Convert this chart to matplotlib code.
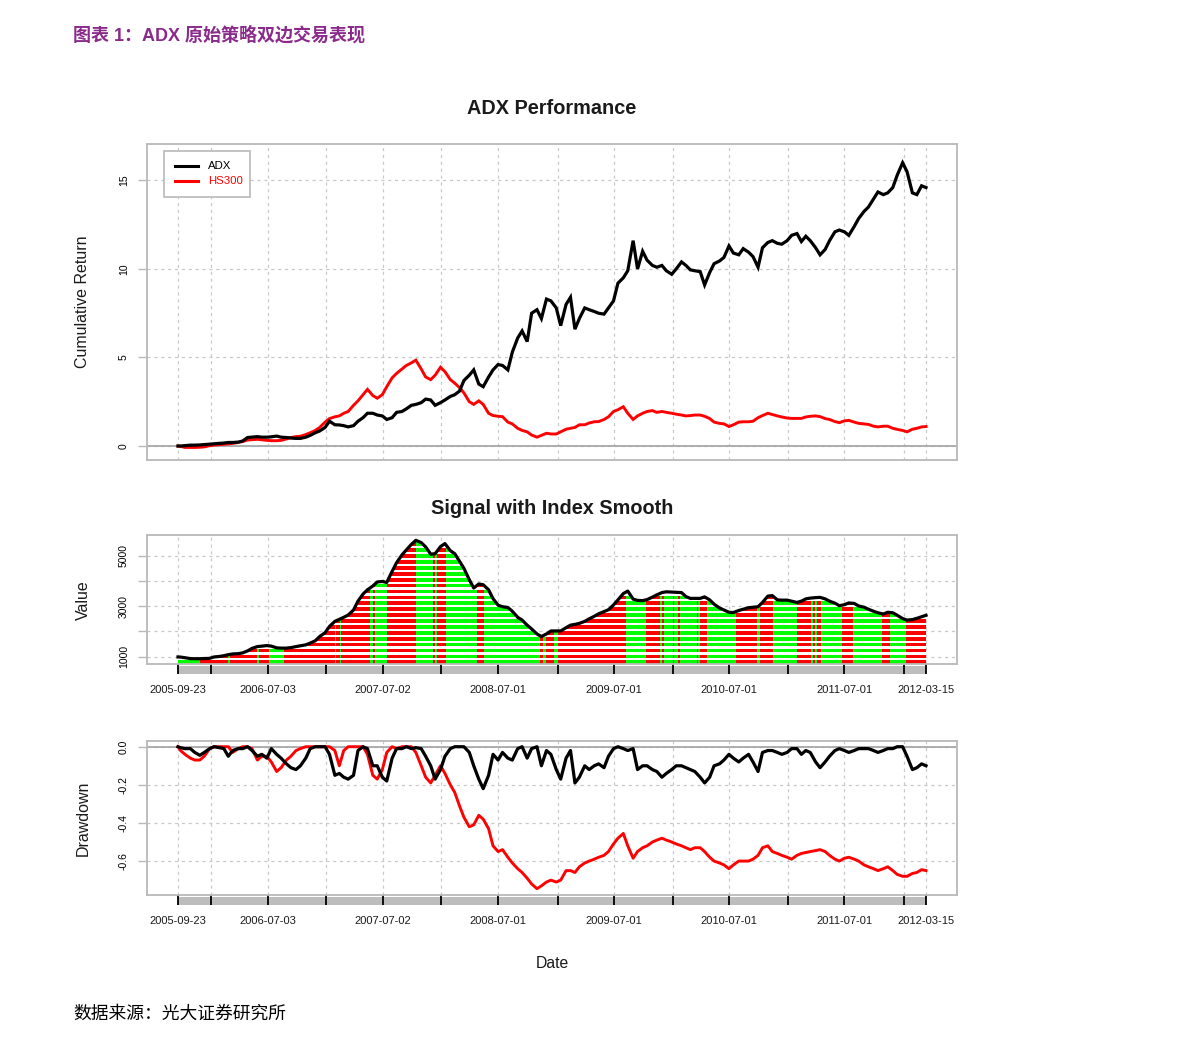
import matplotlib
matplotlib.use('Agg')
import matplotlib.pyplot as plt
import matplotlib.dates as mdates
import matplotlib.transforms as mtransforms
from matplotlib.path import Path
from matplotlib.patches import PathPatch, Rectangle
from matplotlib.lines import Line2D
import pandas as pd

plt.rcParams['font.family'] = ['Liberation Sans', 'DejaVu Sans']

# ---------------- data ----------------
start_date = '2005-09-23'
end_date = '2012-03-15'
# first trading day, then the 1st and 15th of every month up to the last day
sample_dates = [pd.Timestamp(start_date)] + list(pd.date_range('2005-10-01', end_date, freq='SMS'))

adx_cum = [
    0.00, 0.00, 0.02, 0.05, 0.05, 0.06, 0.08,
    0.10, 0.13, 0.15, 0.17, 0.20, 0.20, 0.22, 0.28, 0.48, 0.50, 0.53, 0.50,
    0.50, 0.52, 0.56, 0.50, 0.48, 0.45, 0.43, 0.43, 0.50, 0.60, 0.75, 0.85,
    1.05, 1.40, 1.20, 1.19, 1.15, 1.08, 1.15, 1.40, 1.60, 1.85, 1.85, 1.75,
    1.70, 1.50, 1.60, 1.90, 1.95, 2.10, 2.30, 2.35, 2.45, 2.65, 2.60, 2.30,
    2.45, 2.60, 2.80, 2.90, 3.10, 3.70, 4.00, 4.30, 3.50, 3.35, 3.90, 4.30,
    4.60, 4.55, 4.30, 5.30, 6.10, 6.50, 5.90, 7.50, 7.70, 7.20, 8.30, 8.20,
    7.80, 6.80, 8.00, 8.40, 6.60, 7.20, 7.80, 7.70, 7.60, 7.50, 7.45, 7.80,
    8.20, 9.20, 9.50, 9.90, 11.60, 10.00, 11.00, 10.50, 10.20, 10.10, 10.20, 9.90,
    9.70, 10.00, 10.40, 10.20, 9.95, 9.90, 9.85, 9.10, 9.80, 10.30, 10.45, 10.65,
    11.30, 10.90, 10.80, 11.15, 10.95, 10.70, 10.10, 11.20, 11.50, 11.60, 11.45, 11.40,
    11.60, 11.90, 12.00, 11.55, 11.85, 11.60, 11.20, 10.80, 11.10, 11.60, 12.10, 12.20,
    12.10, 11.90, 12.40, 12.85, 13.25, 13.50, 13.95, 14.35, 14.20, 14.30, 14.60, 15.30,
    16.00, 15.50, 14.30, 14.20, 14.70, 14.60,
]

hs300_cum = [
    0.00, -0.02, -0.08, -0.08, -0.08, -0.07, -0.05,
    0.02, 0.05, 0.08, 0.10, 0.12, 0.15, 0.20, 0.25, 0.34, 0.36, 0.38, 0.35,
    0.32, 0.30, 0.30, 0.32, 0.40, 0.48, 0.53, 0.55, 0.65, 0.75, 0.88, 1.05,
    1.35, 1.55, 1.65, 1.70, 1.85, 1.95, 2.30, 2.55, 2.90, 3.20, 2.85, 2.70,
    2.90, 3.35, 3.85, 4.10, 4.35, 4.55, 4.70, 4.85, 4.35, 3.90, 3.75, 4.00,
    4.45, 4.20, 3.75, 3.55, 3.30, 3.00, 2.50, 2.35, 2.55, 2.35, 1.85, 1.72,
    1.68, 1.66, 1.35, 1.25, 1.00, 0.88, 0.80, 0.62, 0.50, 0.60, 0.72, 0.68,
    0.68, 0.80, 0.95, 1.00, 1.05, 1.20, 1.20, 1.30, 1.37, 1.38, 1.50, 1.65,
    1.95, 2.05, 2.22, 1.85, 1.50, 1.70, 1.85, 1.95, 2.00, 1.90, 1.95, 1.90,
    1.85, 1.80, 1.75, 1.70, 1.72, 1.75, 1.75, 1.68, 1.55, 1.35, 1.28, 1.25,
    1.10, 1.20, 1.35, 1.37, 1.37, 1.40, 1.60, 1.72, 1.85, 1.78, 1.70, 1.64,
    1.58, 1.56, 1.56, 1.56, 1.64, 1.68, 1.70, 1.66, 1.55, 1.50, 1.38, 1.32,
    1.42, 1.45, 1.35, 1.28, 1.25, 1.22, 1.12, 1.08, 1.12, 1.12, 1.00, 0.94,
    0.88, 0.80, 0.95, 1.00, 1.08, 1.10,
]

index_smooth = [
    990, 985, 960, 925, 920, 920, 925,
    935, 990, 1010, 1040, 1080, 1110, 1120, 1150, 1230, 1330, 1400, 1420,
    1440, 1420, 1350, 1340, 1340, 1360, 1400, 1430, 1470, 1540, 1630, 1800,
    1950, 2200, 2400, 2480, 2560, 2650, 2850, 3200, 3480, 3650, 3800, 3960,
    3980, 3940, 4380, 4720, 5030, 5230, 5450, 5610, 5520, 5350, 5060, 5080,
    5360, 5480, 5200, 5080, 4780, 4500, 4050, 3720, 3880, 3850, 3650, 3300,
    3040, 2980, 2950, 2800, 2560, 2450, 2250, 2100, 1900, 1800, 1900, 2020,
    2020, 2020, 2150, 2250, 2280, 2320, 2400, 2500, 2600, 2700, 2790, 2860,
    3050, 3250, 3500, 3600, 3280, 3230, 3220, 3260, 3360, 3450, 3540, 3570,
    3560, 3555, 3540, 3380, 3310, 3310, 3310, 3370, 3250, 3080, 2930, 2850,
    2760, 2750, 2830, 2880, 2940, 2960, 2980, 3150, 3400, 3420, 3250, 3240,
    3240, 3200, 3150, 3200, 3290, 3320, 3340, 3350, 3290, 3200, 3120, 3020,
    3060, 3130, 3110, 3010, 2960, 2880, 2800, 2740, 2690, 2760, 2740, 2640,
    2510, 2450, 2470, 2520, 2580, 2640,
]

adx_dd = [
    0.0, -0.005, -0.01, -0.01, -0.03, -0.045, -0.03,
    -0.01, 0.0, -0.005, -0.01, -0.05, -0.02, -0.01, -0.01, 0.0, -0.02, -0.05, -0.04,
    -0.06, -0.01, -0.04, -0.06, -0.09, -0.11, -0.12, -0.10, -0.06, -0.01, 0.0, 0.0,
    0.0, -0.04, -0.15, -0.14, -0.16, -0.17, -0.15, -0.02, 0.0, -0.01, -0.10, -0.10,
    -0.16, -0.18, -0.06, -0.01, -0.01, 0.0, -0.01, -0.005, -0.01, -0.05, -0.10, -0.17,
    -0.12, -0.05, -0.01, 0.0, 0.0, 0.0, -0.03, -0.10, -0.17, -0.22, -0.15, -0.04,
    -0.07, -0.03, -0.06, -0.07, -0.01, 0.0, -0.06, -0.01, 0.0, -0.10, -0.02, -0.04,
    -0.12, -0.17, -0.06, -0.02, -0.19, -0.16, -0.10, -0.12, -0.10, -0.09, -0.11, -0.05,
    -0.01, 0.0, -0.01, -0.02, -0.01, -0.12, -0.10, -0.10, -0.12, -0.13, -0.16, -0.14,
    -0.12, -0.10, -0.10, -0.11, -0.12, -0.13, -0.16, -0.19, -0.16, -0.10, -0.09, -0.07,
    -0.04, -0.06, -0.08, -0.06, -0.04, -0.08, -0.13, -0.03, -0.02, -0.02, -0.03, -0.04,
    -0.03, -0.01, -0.01, -0.04, -0.02, -0.03, -0.08, -0.11, -0.08, -0.05, -0.02, -0.01,
    -0.02, -0.03, -0.02, -0.01, -0.01, -0.01, -0.02, -0.03, -0.02, -0.01, -0.01, 0.0,
    0.0, -0.05, -0.12, -0.11, -0.09, -0.10,
]

hs300_dd = [
    0.0, -0.02, -0.04, -0.06, -0.07, -0.07, -0.05,
    -0.01, 0.0, 0.0, 0.0, 0.0, -0.03, -0.01, 0.0, 0.0, -0.01, -0.07, -0.05,
    -0.05, -0.08, -0.13, -0.11, -0.07, -0.05, -0.02, -0.01, 0.0, 0.0, 0.0, 0.0,
    0.0, 0.0, -0.02, -0.10, -0.02, 0.0, 0.0, 0.0, 0.0, -0.04, -0.15, -0.17,
    -0.12, -0.03, 0.0, -0.01, 0.0, 0.0, 0.0, -0.03, -0.10, -0.16, -0.19, -0.15,
    -0.10, -0.14, -0.20, -0.24, -0.31, -0.37, -0.42, -0.41, -0.36, -0.38, -0.43, -0.52,
    -0.55, -0.54, -0.58, -0.61, -0.64, -0.66, -0.69, -0.72, -0.745, -0.73, -0.71, -0.70,
    -0.71, -0.70, -0.65, -0.65, -0.66, -0.63, -0.61, -0.60, -0.59, -0.58, -0.57, -0.55,
    -0.51, -0.48, -0.455, -0.52, -0.585, -0.55, -0.53, -0.52, -0.50, -0.49, -0.48, -0.49,
    -0.50, -0.51, -0.52, -0.53, -0.54, -0.53, -0.53, -0.55, -0.58, -0.60, -0.61, -0.62,
    -0.64, -0.62, -0.60, -0.60, -0.60, -0.59, -0.57, -0.53, -0.52, -0.55, -0.56, -0.57,
    -0.58, -0.59, -0.57, -0.56, -0.555, -0.55, -0.545, -0.54, -0.55, -0.57, -0.59, -0.60,
    -0.585, -0.58, -0.59, -0.60, -0.62, -0.63, -0.64, -0.65, -0.64, -0.63, -0.65, -0.67,
    -0.68, -0.68, -0.665, -0.66, -0.645, -0.65,
]

# trading signal: date each state starts, G = green, R = red
signal_start = [
    '2005-09-23', '2005-12-03', '2006-02-27', '2006-03-07', '2006-05-30', '2006-06-07',
    '2006-07-07', '2006-08-23', '2007-02-01', '2007-02-05', '2007-02-16', '2007-02-21',
    '2007-05-24', '2007-05-31', '2007-06-09', '2007-07-15', '2007-10-14', '2007-12-07',
    '2007-12-13', '2007-12-21', '2008-01-19', '2008-04-26', '2008-05-16', '2008-11-10',
    '2008-11-20', '2008-11-28', '2008-12-24', '2009-01-05', '2009-08-10', '2009-10-12',
    '2009-11-26', '2009-12-02', '2009-12-09', '2010-01-04', '2010-01-07', '2010-01-13',
    '2010-01-16', '2010-01-21', '2010-01-26', '2010-03-21', '2010-03-26', '2010-04-01',
    '2010-04-22', '2010-07-22', '2010-09-28', '2010-10-06', '2010-11-18', '2011-02-02',
    '2011-03-18', '2011-03-25', '2011-03-31', '2011-04-05', '2011-04-17', '2011-06-23',
    '2011-07-27', '2011-10-27', '2011-11-23', '2012-01-13',
]
signal_state = [
    'G', 'R', 'G', 'R', 'G', 'R',
    'G', 'R', 'G', 'R', 'G', 'R',
    'G', 'R', 'G', 'R', 'G', 'R',
    'G', 'R', 'G', 'R', 'G', 'R',
    'G', 'R', 'G', 'R', 'G', 'R',
    'G', 'R', 'G', 'R', 'G', 'R',
    'G', 'R', 'G', 'R', 'G', 'R',
    'G', 'R', 'G', 'R', 'G', 'R',
    'G', 'R', 'G', 'R', 'G', 'R',
    'G', 'R', 'G', 'R',
]

tick_dates = ['2005-09-23', '2006-01-04', '2006-07-03', '2007-01-04', '2007-07-02',
              '2008-01-02', '2008-07-01', '2009-01-05', '2009-07-01', '2010-01-04',
              '2010-07-01', '2011-01-04', '2011-07-01', '2012-01-04', '2012-03-15']
tick_labels = ['2005-09-23', '', '2006-07-03', '', '2007-07-02', '', '2008-07-01', '',
               '2009-07-01', '', '2010-07-01', '', '2011-07-01', '', '2012-03-15']
top_yticks = [0, 5, 10, 15]
top_ylabels = ['0', '5', '10', '15']
mid_yticks = [1000, 2000, 3000, 4000, 5000]
mid_ylabels = ['1000', '', '3000', '', '5000']
dd_yticks = [0.0, -0.2, -0.4, -0.6]
dd_ylabels = ['0.0', '-0.2', '-0.4', '-0.6']

# ---------------- layout ----------------
W, H = 1191, 1046
fig = plt.figure(figsize=(W / 100, H / 100), dpi=100)


def X(px):
    return px / W


def Y(py):
    return 1 - py / H


def box(l, t, r, b):
    return [l / W, 1 - b / H, (r - l) / W, (b - t) / H]


ax1 = fig.add_axes(box(147, 144, 957, 460))
ax2 = fig.add_axes(box(147, 535, 957, 664))
ax3 = fig.add_axes(box(147, 741, 957, 895))

def to_num(ds):
    return mdates.date2num(pd.DatetimeIndex(pd.to_datetime(ds)).to_pydatetime())

xd = to_num(sample_dates)
tick_num = to_num(tick_dates)
x_start = to_num([start_date])[0]
x_end = to_num([end_date])[0]
xlo, xhi = x_start - 98, x_end + 98

FR = '#b9b9b9'
GR = '#c9c9c9'
DOT = (0, (2.5, 3))
GREEN = '#00ff00'
RED = '#ff0000'


def style(ax, yticks, ylabels, ylim, with_x):
    ax.set_xlim(xlo, xhi)
    ax.set_ylim(*ylim)
    for s in ax.spines.values():
        s.set_color(FR)
        s.set_linewidth(1.3)
    ax.set_yticks(yticks)
    ax.set_yticklabels(ylabels, rotation=90, va='center', fontsize=7.5)
    ax.tick_params(axis='y', direction='out', length=6.5, width=1.0, color=FR, pad=6.5)
    for y in yticks:
        ax.axhline(y, color=GR, lw=0.9, ls=DOT, zorder=0.5)
    for x in tick_num:
        ax.axvline(x, color=GR, lw=0.9, ls=DOT, zorder=0.5)
    ax.set_xticks(tick_num)
    if with_x:
        ax.set_xticklabels(tick_labels, fontsize=8)
        ax.tick_params(axis='x', direction='out', length=7.2, width=1.3, color='black',
                       pad=8, labelcolor='#1a1a1a')
    else:
        ax.tick_params(axis='x', bottom=False, labelbottom=False)


def band(ax, hpx):
    tr = mtransforms.blended_transform_factory(ax.transData, ax.transAxes)
    r = Rectangle((tick_num[0], -10 / hpx), tick_num[-1] - tick_num[0], 8 / hpx,
                  transform=tr, facecolor='#bdbdbd', edgecolor='none', clip_on=False, zorder=0.3)
    ax.add_patch(r)


# ---------------- panel 1: cumulative return ----------------
top_ylim = (-0.79, 17.06)
style(ax1, top_yticks, top_ylabels, top_ylim, False)
ax1.axhline(0, color='#a8a8a8', lw=1.3, zorder=1)
ax1.plot(xd, hs300_cum, color=RED, lw=2.1, zorder=3, solid_joinstyle='miter')
ax1.plot(xd, adx_cum, color='black', lw=2.3, zorder=4, solid_joinstyle='miter')

# legend
fig.add_artist(Rectangle((X(164), Y(197)), (250 - 164) / W, (197 - 151) / H,
                         transform=fig.transFigure, facecolor='white', edgecolor=FR, lw=1.2))
fig.add_artist(Line2D([X(175), X(198)], [Y(166), Y(166)], color='black', lw=2.2,
                      transform=fig.transFigure))
fig.add_artist(Line2D([X(175), X(198)], [Y(181), Y(181)], color=RED, lw=2.2,
                      transform=fig.transFigure))
fig.text(X(208), Y(166), 'ADX', fontsize=8.2, ha='left', va='center', color='black')
fig.text(X(208), Y(181), 'HS300', fontsize=8.2, ha='left', va='center', color=RED)

# ---------------- panel 2: signal with index smooth ----------------
mid_ylim = (711, 5820)
style(ax2, mid_yticks, mid_ylabels, mid_ylim, True)
band(ax2, 129)
base = mid_ylim[0]
verts = [(xd[0], base)] + list(zip(xd, index_smooth)) + [(xd[-1], base), (xd[0], base)]
clip = PathPatch(Path(verts), transform=ax2.transData, facecolor='none', edgecolor='none')
ax2.add_patch(clip)
seg_start = list(to_num(signal_start))
seg_end = seg_start[1:] + [x_end]
for s, e, c in zip(seg_start, seg_end, signal_state):
    sp = ax2.axvspan(s, e, facecolor=GREEN if c == 'G' else RED, lw=0, zorder=1,
                     antialiased=False)
    sp.set_clip_path(clip)
gy = base + 140
while gy < mid_ylim[1]:
    g = ax2.axhspan(gy, gy + 88, facecolor='white', lw=0, zorder=1.2, antialiased=False)
    g.set_clip_path(clip)
    gy += 233.7
ax2.plot(xd, index_smooth, color='black', lw=2.3, zorder=4)

# ---------------- panel 3: drawdown ----------------
dd_ylim = (-0.778, 0.030)
style(ax3, dd_yticks, dd_ylabels, dd_ylim, True)
band(ax3, 154)
ax3.axhline(0, color='#a8a8a8', lw=1.3, zorder=1)
ax3.plot(xd, hs300_dd, color=RED, lw=2.1, zorder=3)
ax3.plot(xd, adx_dd, color='black', lw=2.3, zorder=4)

# ---------------- texts ----------------
fig.text(X(551.5), Y(108), 'ADX Performance', fontsize=14.3, fontweight='bold',
         ha='center', va='center', color='#1a1a1a')
fig.text(X(552.5), Y(509), 'Signal with Index Smooth', fontsize=14.3, fontweight='bold',
         ha='center', va='center', color='#1a1a1a')
fig.text(X(83), Y(302), 'Cumulative Return', rotation=90, fontsize=11.5,
         ha='center', va='center', color='#1a1a1a')
fig.text(X(83), Y(600), 'Value', rotation=90, fontsize=11.5,
         ha='center', va='center', color='#1a1a1a')
fig.text(X(83), Y(818), 'Drawdown', rotation=90, fontsize=11.5,
         ha='center', va='center', color='#1a1a1a')
fig.text(X(552), Y(963), 'Date', fontsize=11.3, ha='center', va='center', color='#1a1a1a')

head_fonts = ['Liberation Sans', 'Noto Sans CJK SC', 'DejaVu Sans']
cjk = ['Noto Sans CJK SC', 'DejaVu Sans']
fig.text(X(73), Y(35), '图表 1：ADX 原始策略双边交易表现', fontsize=13, fontweight='bold',
         color='#8a2b8c', ha='left', va='center', family=head_fonts)
fig.text(X(73), Y(1014), '数据来源：光大证券研究所', fontsize=12.8, color='black',
         ha='left', va='center', family=cjk)

fig.savefig('out.png', dpi=100)
